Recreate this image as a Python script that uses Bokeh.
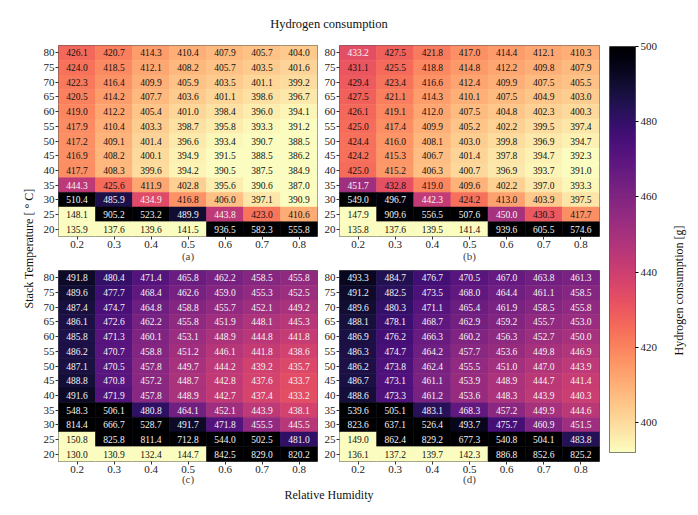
import numpy as np
from bokeh.plotting import figure
from bokeh.models import ColumnDataSource, LinearColorMapper, FixedTicker, Range1d
from bokeh.layouts import row, column
from bokeh.palettes import Magma256
from bokeh.core.properties import value
from bokeh.embed import file_html
from bokeh.resources import INLINE

rh_labels = ["0.2", "0.3", "0.4", "0.5", "0.6", "0.7", "0.8"]
temps = [80, 75, 70, 65, 60, 55, 50, 45, 40, 35, 30, 25, 20]

vals_a = [
    [426.1, 420.7, 414.3, 410.4, 407.9, 405.7, 404.0],
    [424.0, 418.5, 412.1, 408.2, 405.7, 403.5, 401.6],
    [422.3, 416.4, 409.9, 405.9, 403.5, 401.1, 399.2],
    [420.5, 414.2, 407.7, 403.6, 401.1, 398.6, 396.7],
    [419.0, 412.2, 405.4, 401.0, 398.4, 396.0, 394.1],
    [417.9, 410.4, 403.3, 398.7, 395.8, 393.3, 391.2],
    [417.2, 409.1, 401.4, 396.6, 393.4, 390.7, 388.5],
    [416.9, 408.2, 400.1, 394.9, 391.5, 388.5, 386.2],
    [417.7, 408.3, 399.6, 394.2, 390.5, 387.5, 384.9],
    [444.3, 425.6, 411.9, 402.8, 395.6, 390.6, 387.0],
    [510.4, 485.9, 434.9, 416.8, 406.0, 397.1, 390.9],
    [148.1, 905.2, 523.2, 489.9, 443.8, 423.0, 410.6],
    [135.9, 137.6, 139.6, 141.5, 936.5, 582.3, 555.8],
]
vals_b = [
    [433.2, 427.5, 421.8, 417.0, 414.4, 412.1, 410.3],
    [431.1, 425.5, 418.8, 414.8, 412.2, 409.8, 407.9],
    [429.4, 423.4, 416.6, 412.4, 409.9, 407.5, 405.5],
    [427.5, 421.1, 414.3, 410.1, 407.5, 404.9, 403.0],
    [426.1, 419.1, 412.0, 407.5, 404.8, 402.3, 400.3],
    [425.0, 417.4, 409.9, 405.2, 402.2, 399.5, 397.4],
    [424.4, 416.0, 408.1, 403.0, 399.8, 396.9, 394.7],
    [424.2, 415.3, 406.7, 401.4, 397.8, 394.7, 392.3],
    [425.0, 415.2, 406.3, 400.7, 396.9, 393.7, 391.0],
    [451.7, 432.8, 419.0, 409.6, 402.2, 397.0, 393.3],
    [549.0, 496.7, 442.3, 424.2, 413.0, 403.9, 397.5],
    [147.9, 909.6, 556.5, 507.6, 450.0, 430.3, 417.7],
    [135.8, 137.6, 139.5, 141.4, 939.6, 605.5, 574.6],
]
vals_c = [
    [491.8, 480.4, 471.4, 465.8, 462.2, 458.5, 455.8],
    [489.6, 477.7, 468.4, 462.6, 459.0, 455.3, 452.5],
    [487.4, 474.7, 464.8, 458.8, 455.7, 452.1, 449.2],
    [486.1, 472.6, 462.2, 455.8, 451.9, 448.1, 445.3],
    [485.8, 471.3, 460.1, 453.1, 448.9, 444.8, 441.8],
    [486.2, 470.7, 458.8, 451.2, 446.1, 441.8, 438.6],
    [487.1, 470.5, 457.8, 449.7, 444.2, 439.2, 435.7],
    [488.8, 470.8, 457.2, 448.7, 442.8, 437.6, 433.7],
    [491.6, 471.9, 457.8, 448.9, 442.7, 437.4, 433.2],
    [548.3, 506.1, 480.8, 464.1, 452.1, 443.9, 438.1],
    [814.4, 666.7, 528.7, 491.7, 471.8, 455.5, 445.5],
    [150.8, 825.8, 811.4, 712.8, 544.0, 502.5, 481.0],
    [130.0, 130.9, 132.4, 144.7, 842.5, 829.0, 820.2],
]
vals_d = [
    [493.3, 484.7, 476.7, 470.5, 467.0, 463.8, 461.3],
    [491.2, 482.5, 473.5, 468.0, 464.4, 461.1, 458.5],
    [489.6, 480.3, 471.1, 465.4, 461.9, 458.5, 455.8],
    [488.1, 478.1, 468.7, 462.9, 459.2, 455.7, 453.0],
    [486.9, 476.2, 466.3, 460.2, 456.3, 452.7, 450.0],
    [486.3, 474.7, 464.2, 457.7, 453.6, 449.8, 446.9],
    [486.2, 473.8, 462.4, 455.5, 451.0, 447.0, 443.9],
    [486.7, 473.1, 461.1, 453.9, 448.9, 444.7, 441.4],
    [488.6, 473.3, 461.2, 453.6, 448.3, 443.9, 440.3],
    [539.6, 505.1, 483.1, 468.3, 457.2, 449.9, 444.6],
    [823.6, 637.1, 526.4, 493.7, 475.7, 460.9, 451.5],
    [149.0, 862.4, 829.2, 677.3, 540.8, 504.1, 483.8],
    [136.1, 137.2, 139.7, 142.3, 886.8, 852.6, 825.2],
]
panel_labels = ["(a)", "(b)", "(c)", "(d)"]
cbar_ticks = [400, 420, 440, 460, 480, 500]
c_low, c_high = 392, 500
text_threshold = 433

FONT = "Liberation Serif"
palette = list(reversed(Magma256))
mapper = LinearColorMapper(palette=palette, low=c_low, high=c_high)
FRAME_COLOR = "#5a5a5a"


def style_axes(p, label_standoff):
    for ax in (p.xaxis[0], p.yaxis[0]):
        ax.major_label_text_font = FONT
        ax.major_label_text_font_size = "11px"
        ax.major_label_text_color = "#222222"
        ax.axis_line_color = None
        ax.major_tick_in = 0
        ax.major_tick_out = 3
        ax.major_tick_line_color = "#333333"
        ax.minor_tick_line_color = None
        ax.major_label_standoff = 1
        ax.axis_label_text_font = FONT
        ax.axis_label_text_font_size = "11px"
        ax.axis_label_text_font_style = "normal"
        ax.axis_label_standoff = label_standoff


def panel(vals, label, width, height, bl, br, bt, bb, label_standoff):
    xs, ys, vs, txt, tcol = [], [], [], [], []
    for i, t in enumerate(temps):
        for j, r in enumerate(rh_labels):
            v = vals[i][j]
            xs.append(r)
            ys.append(str(t))
            vs.append(v)
            txt.append(f"{v:.1f}")
            tcol.append("#f4f4f4" if v > text_threshold else "#111111")
    src = ColumnDataSource(dict(x=xs, y=ys, v=vs, t=txt, c=tcol))
    p = figure(width=width, height=height, x_range=rh_labels,
               y_range=[str(t) for t in reversed(temps)],
               output_backend="svg", toolbar_location=None,
               min_border_left=bl, min_border_right=br,
               min_border_top=bt, min_border_bottom=bb)
    cmap = {"field": "v", "transform": mapper}
    p.rect("x", "y", 1, 1, source=src, fill_color=cmap, line_color=cmap, line_width=0.6)
    p.text("x", "y", text="t", text_color="c", source=src, text_align="center",
           text_baseline="middle", text_font=value(FONT), text_font_size="9.5px")
    p.grid.visible = False
    p.outline_line_color = FRAME_COLOR
    p.outline_line_width = 1
    style_axes(p, label_standoff)
    p.xaxis.axis_label = label
    return p


def label_fig(text, location, width, height, bl, br, bt, bb, size, valign="bottom"):
    p = figure(width=width, height=height, x_axis_type=None, y_axis_type=None,
               output_backend="svg", toolbar_location=None, title=text,
               title_location=location, min_border_left=bl, min_border_right=br,
               min_border_top=bt, min_border_bottom=bb)
    p.outline_line_color = None
    p.title.text_font = FONT
    p.title.text_font_size = size
    p.title.text_font_style = "normal"
    p.title.text_color = "#111111"
    p.title.align = "center"
    p.title.vertical_align = valign
    p.title.standoff = 0
    return p


fa = panel(vals_a, panel_labels[0], 281, 227, 20, 2, 8, 27, -1)
fb = panel(vals_b, panel_labels[1], 285, 227, 20, 5, 8, 27, -1)
fc = panel(vals_c, panel_labels[2], 281, 223, 20, 2, 6, 25, -3)
fd = panel(vals_d, panel_labels[3], 285, 223, 20, 5, 6, 25, -3)

title_fig = label_fig("Hydrogen consumption", "above", 566, 37, 20, 5, 30, 0, "12.5px")
xlabel_fig = label_fig("Relative Humidity", "above", 566, 18, 20, 5, 14, 0, "12px", "top")
ylabel_fig = label_fig("Stack Temperature [ \u00b0 C]", "left", 38, 505, 35, 0, 0, 9, "12px")
cblabel_fig = label_fig("Hydrogen consumption [g]", "left", 34, 505, 25, 0, 75, 0, "12px")

# colorbar drawn as its own small figure
cb = figure(width=56, height=505, x_range=Range1d(0, 1), y_range=Range1d(c_low, c_high),
            x_axis_type=None, y_axis_location="right", output_backend="svg",
            toolbar_location=None, min_border_left=5, min_border_right=25,
            min_border_top=46, min_border_bottom=53)
grad = np.linspace(c_low, c_high, 256).reshape(-1, 1)
cb.image(image=[grad], x=0, y=c_low, dw=1, dh=c_high - c_low, color_mapper=mapper)
cb.grid.visible = False
cb.outline_line_color = FRAME_COLOR
cb.yaxis.ticker = FixedTicker(ticks=cbar_ticks)
ya = cb.yaxis[0]
ya.major_label_text_font = FONT
ya.major_label_text_font_size = "11px"
ya.major_label_text_color = "#222222"
ya.axis_line_color = None
ya.major_tick_in = 0
ya.major_tick_out = 3
ya.minor_tick_line_color = None
ya.major_label_standoff = 2

grid_col = column(title_fig, row(fa, fb), row(fc, fd), xlabel_fig)
layout = row(column(ylabel_fig), grid_col, column(cb), column(cblabel_fig))

open("out.html", "w").write(file_html(layout, INLINE))
